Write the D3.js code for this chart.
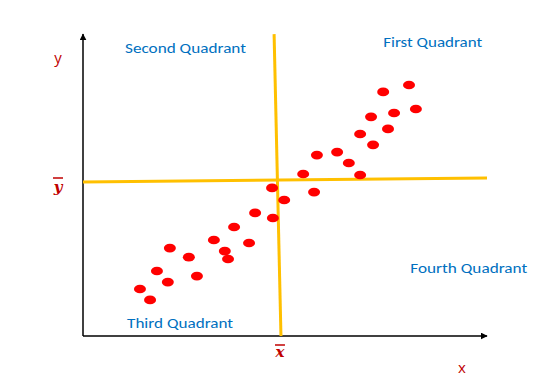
<!DOCTYPE html>
<html>
<head>
<meta charset="utf-8">
<script src="https://cdn.jsdelivr.net/npm/d3@7"></script>
<style>
  body { margin: 0; background: #fff; }
  svg { display: block; }
</style>
</head>
<body>
<svg id="chart" width="560" height="387"></svg>
<script>
// scatter points (arbitrary 0-10 units)
const xs = [1.41, 1.66, 1.83, 2.10, 2.15, 2.62, 2.82, 3.24, 3.51, 3.59, 3.74, 4.11, 4.26, 4.70, 4.68,
            4.98, 5.45, 5.72, 5.79, 6.29, 6.58, 6.86, 6.86, 7.18, 7.13, 7.55, 7.70, 7.43, 8.24, 8.07];
const ys = [1.56, 1.20, 2.16, 1.79, 2.92, 2.62, 1.99, 3.19, 2.82, 2.56, 3.62, 3.09, 4.09, 3.92, 4.92,
            4.52, 5.38, 4.78, 6.01, 6.11, 5.75, 5.35, 6.71, 6.35, 7.28, 6.88, 7.41, 8.11, 7.54, 8.34];

// mean lines (slightly tilted in the original drawing)
const xbarLine = [[4.90, 0], [4.73, 10.03]];
const ybarLine = [[0, 5.12], [10.0, 5.25]];

const quadrants = ['First Quadrant', 'Second Quadrant', 'Third Quadrant', 'Fourth Quadrant'];
const quadPos = [[7.43, 9.6], [1.04, 9.4], [1.09, 0.25], [8.1, 2.09]];
const quadLen = [99, 121, 106, 117];

const svg = d3.select('#chart');

const x = d3.scaleLinear().domain([0, 10]).range([83, 487]);
const y = d3.scaleLinear().domain([0, 10]).range([336, 35]);

const defs = svg.append('defs');
defs.append('marker')
  .attr('id', 'arrow')
  .attr('viewBox', '0 0 10 10')
  .attr('refX', 9)
  .attr('refY', 5)
  .attr('markerWidth', 7)
  .attr('markerHeight', 7)
  .attr('markerUnits', 'userSpaceOnUse')
  .attr('orient', 'auto')
  .append('path')
  .attr('d', 'M0,0 L10,5 L0,10 z')
  .attr('fill', '#000');

// axes
svg.append('line')
  .attr('x1', x(0)).attr('y1', y(0))
  .attr('x2', x(10)).attr('y2', y(0))
  .attr('stroke', '#000').attr('stroke-width', 1.5)
  .attr('marker-end', 'url(#arrow)');

svg.append('line')
  .attr('x1', x(0)).attr('y1', y(0))
  .attr('x2', x(0)).attr('y2', y(10.03))
  .attr('stroke', '#000').attr('stroke-width', 1.5)
  .attr('marker-end', 'url(#arrow)');

// mean lines
const line = d3.line().x(d => x(d[0])).y(d => y(d[1]));
[xbarLine, ybarLine].forEach(l => {
  svg.append('path')
    .attr('d', line(l))
    .attr('stroke', '#FFC000')
    .attr('stroke-width', 3)
    .attr('fill', 'none');
});

// points
svg.append('g')
  .selectAll('ellipse')
  .data(xs.map((v, i) => [v, ys[i]]))
  .join('ellipse')
  .attr('cx', d => x(d[0]))
  .attr('cy', d => y(d[1]))
  .attr('rx', 6)
  .attr('ry', 4.3)
  .attr('fill', '#FF0000');

// quadrant names
svg.append('g')
  .selectAll('text')
  .data(quadrants)
  .join('text')
  .attr('x', (d, i) => x(quadPos[i][0]))
  .attr('y', (d, i) => y(quadPos[i][1]))
  .attr('textLength', (d, i) => quadLen[i])
  .attr('lengthAdjust', 'spacingAndGlyphs')
  .attr('font-family', 'Carlito, "Open Sans", sans-serif')
  .attr('font-size', 15)
  .attr('fill', '#0070C0')
  .text(d => d);

// axis labels
const red = '#C00000';
svg.append('text')
  .attr('x', 58).attr('y', 63)
  .attr('text-anchor', 'middle')
  .attr('font-family', '"Open Sans", sans-serif')
  .attr('font-size', 15)
  .attr('fill', red)
  .text('y');

svg.append('text')
  .attr('x', 462).attr('y', 373)
  .attr('text-anchor', 'middle')
  .attr('font-family', '"Open Sans", sans-serif')
  .attr('font-size', 15)
  .attr('fill', red)
  .text('x');

// mean symbols with overbar
const meanLabels = [
  { t: 'y', px: 58, py: 192, bar: 178 },
  { t: 'x', px: x(xbarLine[0][0]) - 1, py: 357, bar: 345 }
];
meanLabels.forEach(m => {
  svg.append('text')
    .attr('x', m.px).attr('y', m.py)
    .attr('text-anchor', 'middle')
    .attr('font-family', '"DejaVu Serif", serif')
    .attr('font-style', 'italic')
    .attr('font-weight', 'bold')
    .attr('font-size', 15)
    .attr('fill', red)
    .text(m.t);
  svg.append('line')
    .attr('x1', m.px - 5).attr('x2', m.px + 5)
    .attr('y1', m.bar).attr('y2', m.bar)
    .attr('stroke', red).attr('stroke-width', 1.5);
});
</script>
</body>
</html>
